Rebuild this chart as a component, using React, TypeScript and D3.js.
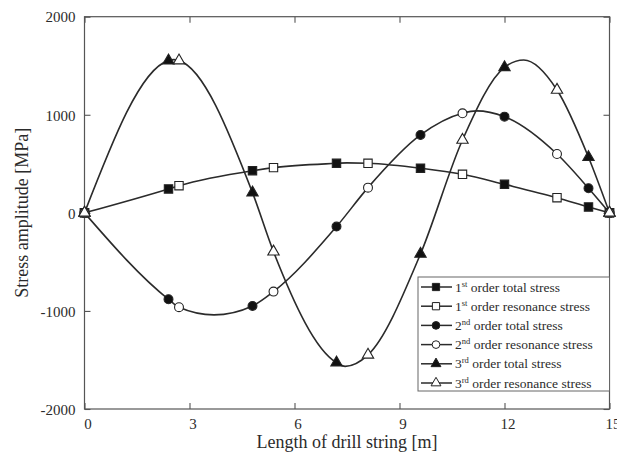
import { useEffect, useRef } from "react";
import * as d3 from "d3";

const WIDTH = 617;
const HEIGHT = 461;
const PLOT = { left: 84.5, right: 609.5, top: 16.7, bottom: 409 };
const FONT = "'Liberation Serif', 'Times New Roman', serif";
const INK = "#2b2b2b";

// positions along the drill string [m]
const xTotal = [0, 2.4, 4.8, 7.2, 9.6, 12, 14.4, 15];
const xResonance = [0, 2.7, 5.4, 8.1, 10.8, 13.5, 15];

// stress amplitude [MPa]
const firstTotal = [0, 244, 430, 505, 455, 291, 60, 0];
const firstResonance = [0, 277, 461, 505, 393, 155, 0];
const secondTotal = [0, -881, -949, -140, 794, 981, 251, 0];
const secondResonance = [0, -962, -803, 257, 1015, 600, 0];
const thirdTotal = [0, 1552, 206, -1527, -419, 1484, 567, 0];
const thirdResonance = [0, 1552, -396, -1448, 743, 1253, 0];

// turning points of the drawn curves (between markers): [m, MPa]
const firstTurning: [number, number][] = [[7.5, 510]];
const secondTurning: [number, number][] = [[3.7, -1040], [11.2, 1040]];
const thirdTurning: [number, number][] = [[2.55, 1562], [7.45, -1565], [12.55, 1558]];

const xTicks = [0, 3, 6, 9, 12, 15];
const yTicks = [-2000, -1000, 0, 1000, 2000];

type Shape = "square" | "circle" | "triangle";

const series = [
  { n: "1", sup: "st", label: " order total stress", xs: xTotal, ys: firstTotal, shape: "square" as Shape, filled: true },
  { n: "1", sup: "st", label: " order resonance stress", xs: xResonance, ys: firstResonance, shape: "square" as Shape, filled: false },
  { n: "2", sup: "nd", label: " order total stress", xs: xTotal, ys: secondTotal, shape: "circle" as Shape, filled: true },
  { n: "2", sup: "nd", label: " order resonance stress", xs: xResonance, ys: secondResonance, shape: "circle" as Shape, filled: false },
  { n: "3", sup: "rd", label: " order total stress", xs: xTotal, ys: thirdTotal, shape: "triangle" as Shape, filled: true },
  { n: "3", sup: "rd", label: " order resonance stress", xs: xResonance, ys: thirdResonance, shape: "triangle" as Shape, filled: false },
];
const turning = [firstTurning, secondTurning, thirdTurning];

const symbolFor = (shape: Shape, scale = 1) => {
  const type = shape === "square" ? d3.symbolSquare : shape === "circle" ? d3.symbolCircle : d3.symbolTriangle;
  const size = shape === "square" ? 70 : shape === "circle" ? 62 : 56;
  return d3.symbol().type(type).size(size * scale)() as string;
};

const Chart = () => {
  const axesRef = useRef<SVGGElement>(null);

  const xScale = d3.scaleLinear().domain([0, 15]).range([PLOT.left, PLOT.right]);
  const yScale = d3.scaleLinear().domain([-2000, 2000]).range([PLOT.bottom, PLOT.top]);

  const lineBuilder = d3
    .line<[number, number]>()
    .x((d) => xScale(d[0]))
    .y((d) => yScale(d[1]))
    .curve(d3.curveMonotoneX);

  // one smooth curve per order, through both series of that order and its turning points
  const orderCurves = [0, 1, 2].map((k) => {
    const pts = new Map<number, number>();
    [series[2 * k], series[2 * k + 1]].forEach((s) => s.xs.forEach((x, j) => pts.set(x, s.ys[j])));
    turning[k].forEach(([x, y]) => pts.set(x, y));
    return Array.from(pts.entries()).sort((a, b) => a[0] - b[0]) as [number, number][];
  });

  useEffect(() => {
    const g = d3.select(axesRef.current);
    g.selectAll("*").remove();
    const fmt = (d: d3.NumberValue) => String(d);

    const bottom = g.append("g").attr("transform", `translate(0,${PLOT.bottom})`)
      .call(d3.axisBottom(xScale).tickValues(xTicks).tickFormat(fmt).tickSize(-6).tickSizeOuter(0).tickPadding(9));
    const left = g.append("g").attr("transform", `translate(${PLOT.left},0)`)
      .call(d3.axisLeft(yScale).tickValues(yTicks).tickFormat(fmt).tickSize(-6).tickSizeOuter(0).tickPadding(9));
    g.append("g").attr("transform", `translate(0,${PLOT.top})`)
      .call(d3.axisTop(xScale).tickValues(xTicks).tickSize(-6).tickSizeOuter(0).tickFormat(() => ""));
    g.append("g").attr("transform", `translate(${PLOT.right},0)`)
      .call(d3.axisRight(yScale).tickValues(yTicks).tickSize(-6).tickSizeOuter(0).tickFormat(() => ""));

    g.selectAll(".domain").remove();
    g.selectAll("line").attr("stroke", "#555").attr("stroke-width", 1.1);
    g.selectAll("text").attr("font-family", FONT).attr("font-size", 15).attr("fill", INK);
    bottom.selectAll("text").attr("dx", 3);
    left.selectAll("text").attr("dy", "0.35em");
  }, []);

  const legendTop = 277;
  const rowGap = 19.2;

  return (
    <svg width={WIDTH} height={HEIGHT} style={{ position: "absolute", left: 0, top: 0, background: "#fff" }}>
      <g ref={axesRef} />
      <rect
        x={PLOT.left}
        y={PLOT.top}
        width={PLOT.right - PLOT.left}
        height={PLOT.bottom - PLOT.top}
        fill="none"
        stroke="#555"
        strokeWidth={1.2}
      />

      {orderCurves.map((pts, i) => (
        <path key={i} d={lineBuilder(pts) ?? ""} fill="none" stroke={INK} strokeWidth={1.6} />
      ))}

      {series.map((s, i) => (
        <g key={i}>
          {s.xs.map((x, j) => (
            <path
              key={j}
              d={symbolFor(s.shape)}
              transform={`translate(${xScale(x)},${yScale(s.ys[j])})`}
              fill={s.filled ? "#111" : "#fff"}
              stroke="#222"
              strokeWidth={1.1}
            />
          ))}
        </g>
      ))}

      {/* legend */}
      <rect x={418} y={legendTop} width={PLOT.right - 418} height={114} fill="#fff" stroke="#666" strokeWidth={1} />
      {series.map((s, i) => {
        const y = legendTop + 10 + i * rowGap;
        return (
          <g key={i} transform={`translate(0,${y})`}>
            <line x1={421} x2={452} y1={0} y2={0} stroke={INK} strokeWidth={1.5} />
            <path
              d={symbolFor(s.shape, 0.75)}
              transform="translate(436,0)"
              fill={s.filled ? "#111" : "#fff"}
              stroke="#222"
              strokeWidth={1}
            />
            <text x={455} y={4.5} fontFamily={FONT} fontSize={13.5} fill={INK}>
              {s.n}
              <tspan dy={-5} fontSize={8.5}>{s.sup}</tspan>
              <tspan dy={5}>{s.label}</tspan>
            </text>
          </g>
        );
      })}

      <text
        x={(PLOT.left + PLOT.right) / 2}
        y={448}
        textAnchor="middle"
        fontFamily={FONT}
        fontSize={18}
        fill={INK}
      >
        Length of drill string [m]
      </text>
      <text
        transform={`translate(22,${(PLOT.top + PLOT.bottom) / 2}) rotate(-90)`}
        textAnchor="middle"
        dy="0.35em"
        fontFamily={FONT}
        fontSize={18}
        fill={INK}
      >
        Stress amplitude [MPa]
      </text>
    </svg>
  );
};

export default function App() {
  return <Chart />;
}
